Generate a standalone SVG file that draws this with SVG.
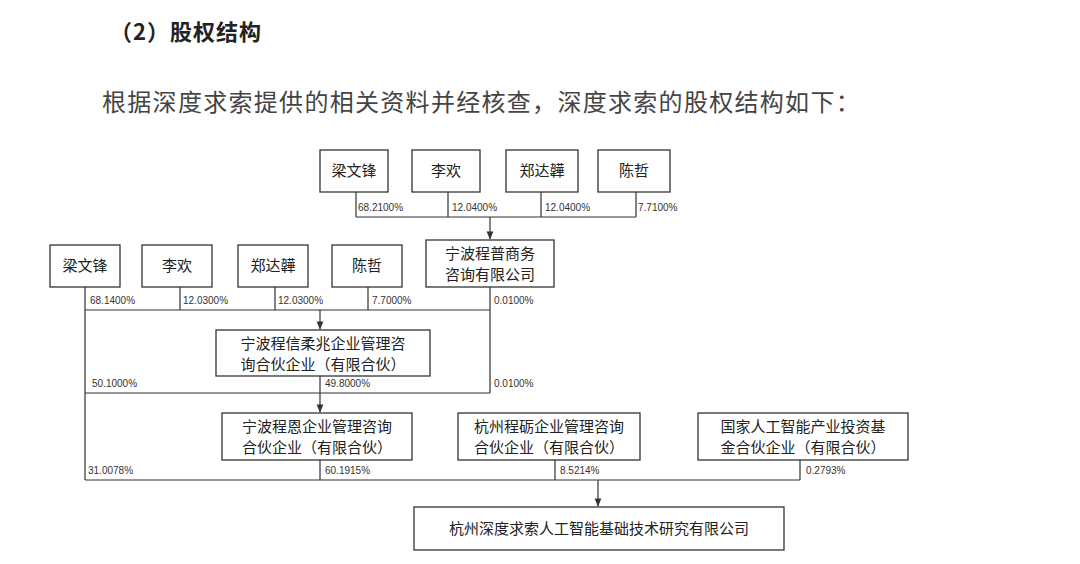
<svg xmlns="http://www.w3.org/2000/svg" width="1080" height="564" viewBox="0 0 1080 564">
<defs>
<style>
.b{fill:#fff;stroke:#333;stroke-width:1.3}
.t{font-family:"Liberation Serif","Noto Sans CJK SC",serif;font-size:15px;fill:#222;text-anchor:middle}
.p{font-family:"Liberation Sans",sans-serif;font-size:10px;fill:#333}
.c{fill:none;stroke:#333;stroke-width:1.2}
</style>
<marker id="a" viewBox="0 0 10 10" refX="9" refY="5" markerWidth="7" markerHeight="7" orient="auto"><path d="M0,1L10,5L0,9z" fill="#333"/></marker>
</defs>
<rect width="1080" height="564" fill="#fff"/>
<text x="110" y="40" font-family="Noto Sans CJK SC,sans-serif" font-size="22" font-weight="bold" fill="#222" letter-spacing="1">（2）股权结构</text>
<text x="102" y="111" font-family="Noto Sans CJK SC,sans-serif" font-size="24" fill="#444" letter-spacing="1.3">根据深度求索提供的相关资料并经核查，深度求索的股权结构如下：</text>
<g id="connectors">
<path class="c" d="M356,192V217M448,192V217M541,192V217M636,192V217M356,217H636"/>
<path class="c" d="M490,217V239" marker-end="url(#a)"/>
<path class="c" d="M85,287V480M180,287V310M275,287V310M368,287V310M490,287V393M85,310H490"/>
<path class="c" d="M320,310V329" marker-end="url(#a)"/>
<path class="c" d="M320,376V393M85,393H490"/>
<path class="c" d="M320,393V412" marker-end="url(#a)"/>
<path class="c" d="M320,460V480M555,460V480M800,460V480M85,480H800"/>
<path class="c" d="M598,480V506" marker-end="url(#a)"/>
</g>
<g class="p">
<text x="358" y="211">68.2100%</text><text x="452" y="211">12.0400%</text><text x="545" y="211">12.0400%</text><text x="638" y="211">7.7100%</text>
<text x="90" y="304">68.1400%</text><text x="183" y="304">12.0300%</text><text x="278" y="304">12.0300%</text><text x="372" y="304">7.7000%</text><text x="494" y="304">0.0100%</text>
<text x="92" y="387">50.1000%</text><text x="325" y="387">49.8000%</text><text x="494" y="387">0.0100%</text>
<text x="88" y="474">31.0078%</text><text x="325" y="474">60.1915%</text><text x="560" y="474">8.5214%</text><text x="806" y="474">0.2793%</text>
</g>
<g id="n1"><rect class="b" x="320" y="150" width="68" height="42"/><text class="t" x="354" y="176">梁文锋</text></g>
<g id="n2"><rect class="b" x="412" y="150" width="68" height="42"/><text class="t" x="446" y="176">李欢</text></g>
<g id="n3"><rect class="b" x="506" y="150" width="72" height="42"/><text class="t" x="542" y="176">郑达韡</text></g>
<g id="n4"><rect class="b" x="598" y="150" width="72" height="42"/><text class="t" x="634" y="176">陈哲</text></g>
<g id="n5"><rect class="b" x="50" y="245" width="70" height="42"/><text class="t" x="85" y="271">梁文锋</text></g>
<g id="n6"><rect class="b" x="142" y="245" width="70" height="42"/><text class="t" x="177" y="271">李欢</text></g>
<g id="n7"><rect class="b" x="238" y="245" width="70" height="42"/><text class="t" x="273" y="271">郑达韡</text></g>
<g id="n8"><rect class="b" x="332" y="245" width="70" height="42"/><text class="t" x="367" y="271">陈哲</text></g>
<g id="n9"><rect class="b" x="426" y="240" width="128" height="47"/><text class="t" x="490" y="259">宁波程普商务</text><text class="t" x="490" y="280">咨询有限公司</text></g>
<g id="n10"><rect class="b" x="216" y="330" width="214" height="46"/><text class="t" x="323" y="349">宁波程信柔兆企业管理咨</text><text class="t" x="323" y="370">询合伙企业（有限合伙）</text></g>
<g id="n11"><rect class="b" x="222" y="413" width="190" height="47"/><text class="t" x="317" y="432">宁波程恩企业管理咨询</text><text class="t" x="317" y="453">合伙企业（有限合伙）</text></g>
<g id="n12"><rect class="b" x="458" y="413" width="182" height="47"/><text class="t" x="549" y="432">杭州程砺企业管理咨询</text><text class="t" x="549" y="453">合伙企业（有限合伙）</text></g>
<g id="n13"><rect class="b" x="698" y="413" width="210" height="47"/><text class="t" x="803" y="432">国家人工智能产业投资基</text><text class="t" x="803" y="453">金合伙企业（有限合伙）</text></g>
<g id="n14"><rect class="b" x="414" y="507" width="370" height="43"/><text class="t" x="599" y="534">杭州深度求索人工智能基础技术研究有限公司</text></g>
</svg>
